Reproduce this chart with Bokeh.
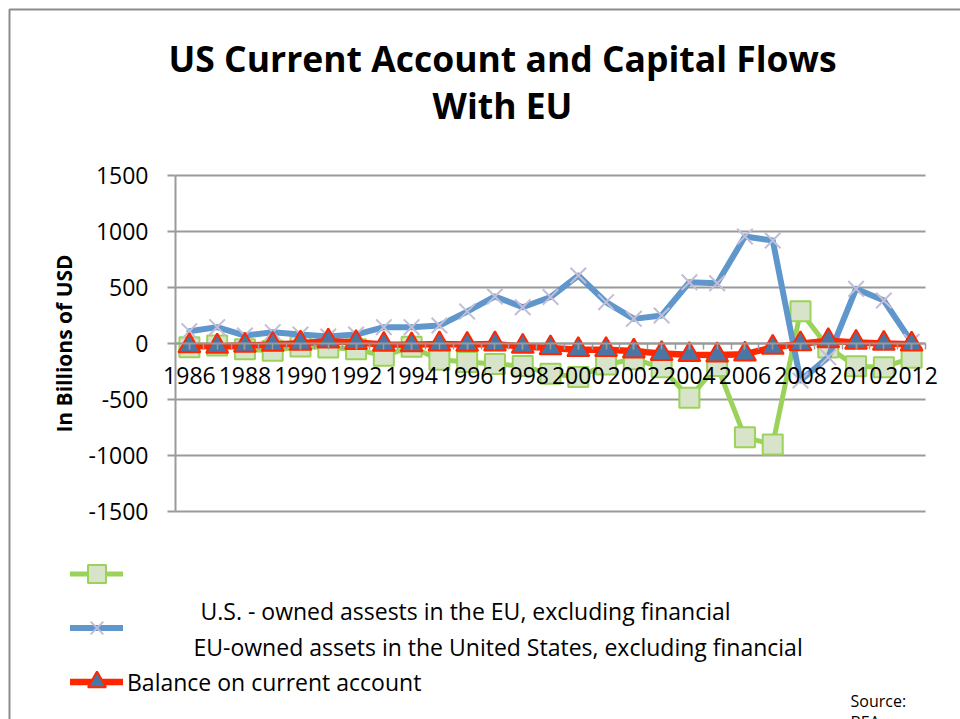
from bokeh.plotting import figure
from bokeh.models import (Range1d, FixedTicker, Label, Legend, LegendItem,
                          BoxAnnotation, ColumnDataSource, NumeralTickFormatter)
from bokeh.embed import file_html
from bokeh.resources import INLINE

# ---------------- data ----------------
years = list(range(1986, 2013))
us_assets_eu = [-33, -18, -51, -65, -27, -36, -51, -110, -30, -146, -165, -182, -202,
                -271, -300, -188, -140, -213, -485, -200, -838, -902, 287, -35, -203,
                -211, -128]
eu_assets_us = [110, 146, 71, 101, 80, 62, 80, 146, 146, 161, 285, 420, 324, 415,
                607, 369, 220, 250, 547, 538, 955, 920, -330, -122, 488, 384, 15]
current_account = [-22, -25, -18, -8, 2, 20, 8, -8, -12, -5, -9, -5, -27, -40, -55,
                   -55, -68, -90, -100, -103, -95, -35, -3, 24, 9, 0, -6]
y_ticks = [-1500, -1000, -500, 0, 500, 1000, 1500]
x_label_years = years[::2]

title_lines = ["US Current Account and Capital Flows", "With EU"]
legend_labels = ["U.S. - owned assests in the EU, excluding financial",
                 "EU-owned assets in the United States, excluding financial",
                 "Balance on current account"]
y_title = "In Billions of USD"
source_note = ["Source:", "BEA"]

FONT = "Open Sans"
GRAY = "#9a9a9a"
W, H = 960, 719

# layout: plot area 175..925 px wide, value 0 at 343 px, 500 units per 56 px
X_LEFT, X_RIGHT = 175.0, 925.0
X0 = years[0] - 0.5
X1 = years[-1] + 0.5
PX_PER_YEAR = (X_RIGHT - X_LEFT) / (X1 - X0)
Y_ZERO, PX_PER_UNIT = 343.0, 0.112

def dx(px):
    return X0 + (px - X_LEFT) / PX_PER_YEAR

def dy(py):
    return (Y_ZERO - py) / PX_PER_UNIT

p = figure(width=W, height=H, output_backend="svg", toolbar_location=None,
           x_range=Range1d(dx(0), dx(W)), y_range=Range1d(dy(H), dy(0)),
           min_border_left=0, min_border_right=0, min_border_top=0,
           min_border_bottom=0)
p.outline_line_color = None
p.background_fill_color = "white"
p.border_fill_color = "white"

src = ColumnDataSource(dict(year=years, us=us_assets_eu, eu=eu_assets_us,
                            ca=current_account))

# grid first
p.xgrid.visible = False
p.ygrid.grid_line_color = GRAY
p.ygrid.grid_line_width = 2
p.ygrid.cross_bounds = (X0, X1)

g_line = p.line("year", "us", source=src, line_color="#9BD35A", line_width=5,
                line_join="round", line_cap="round")
g_mark = p.scatter("year", "us", source=src, marker="square", size=20,
                   fill_color="#D8E4C9", line_color="#9BD35A", line_width=2)
b_line = p.line("year", "eu", source=src, line_color="#5F97CD", line_width=6,
                line_join="round", line_cap="round")
b_mark = p.scatter("year", "eu", source=src, marker="x", size=22,
                   line_color="#C3BDD6", line_width=2)
r_line = p.line("year", "ca", source=src, line_color="#FF2600", line_width=6.5,
                line_join="round", line_cap="round")
r_mark = p.scatter("year", "ca", source=src, marker="triangle", size=22,
                   fill_color="#4A76A6", line_color="#FF2600", line_width=2)

# y axis on the plot-area edge
ya = p.yaxis[0]
ya.fixed_location = X0
ya.ticker = FixedTicker(ticks=y_ticks)
ya.formatter = NumeralTickFormatter(format="0")
ya.bounds = (y_ticks[0], y_ticks[-1])
ya.axis_line_color = GRAY
ya.axis_line_width = 2
ya.major_tick_out = 8
ya.major_tick_in = 0
ya.major_tick_line_color = GRAY
ya.major_tick_line_width = 2
ya.minor_tick_line_color = None
ya.major_label_standoff = 19
ya.major_label_text_font = FONT
ya.major_label_text_font_size = "23px"
ya.major_label_text_color = "black"
ya.axis_label = y_title
ya.axis_label_text_font = FONT
ya.axis_label_text_font_style = "bold"
ya.axis_label_text_font_size = "21px"
ya.axis_label_text_color = "black"
ya.axis_label_standoff = 7

# x axis crossing at zero
minor = sorted([y - 0.5 for y in years] + years + [X1])
xa = p.xaxis[0]
xa.fixed_location = 0
xa.bounds = (X0, X1)
xa.ticker = FixedTicker(ticks=x_label_years, minor_ticks=minor)
xa.axis_line_color = GRAY
xa.axis_line_width = 2
xa.major_tick_out = 6
xa.major_tick_in = 0
xa.minor_tick_out = 6
xa.minor_tick_in = 0
xa.major_tick_line_color = GRAY
xa.minor_tick_line_color = GRAY
xa.major_tick_line_width = 1.5
xa.minor_tick_line_width = 1.5
xa.major_label_standoff = 17
xa.major_label_text_font = FONT
xa.major_label_text_font_size = "23px"
xa.major_label_text_color = "black"

# legend
legend = Legend(items=[LegendItem(label="", renderers=[g_line, g_mark]),
                       LegendItem(label="", renderers=[b_line, b_mark]),
                       LegendItem(label=legend_labels[2], renderers=[r_line, r_mark])],
                location=(70, H - 704), orientation="vertical",
                glyph_width=53, glyph_height=45, spacing=9, padding=0, margin=0,
                label_standoff=4, label_height=20, border_line_color=None,
                background_fill_alpha=0, label_text_font=FONT,
                label_text_font_size="23px", label_text_baseline="middle",
                label_text_color="black")
p.add_layout(legend)

def lab(px, py, text, size, bold=False, align="left"):
    p.add_layout(Label(x=dx(px), y=dy(py), text=text,
                       text_font=FONT, text_font_size=size,
                       text_font_style="bold" if bold else "normal",
                       text_align=align, text_baseline="middle", text_color="black"))

lab(502, 57, title_lines[0], "35.5px", bold=True, align="center")
lab(502, 104, title_lines[1], "35.5px", bold=True, align="center")
lab(200, 610, legend_labels[0], "23px")
lab(193, 646, legend_labels[1], "23px")
lab(850, 700, source_note[0], "16px")
lab(850, 721, source_note[1], "16px")

# outer chart border (top and left edges visible)
p.add_layout(BoxAnnotation(left=dx(9), right=dx(W + 300), top=dy(9), bottom=dy(H + 300),
                           fill_alpha=0, line_color="#8c8c8c", line_alpha=1,
                           line_width=2))

open("out.html", "w").write(file_html(p, INLINE))
